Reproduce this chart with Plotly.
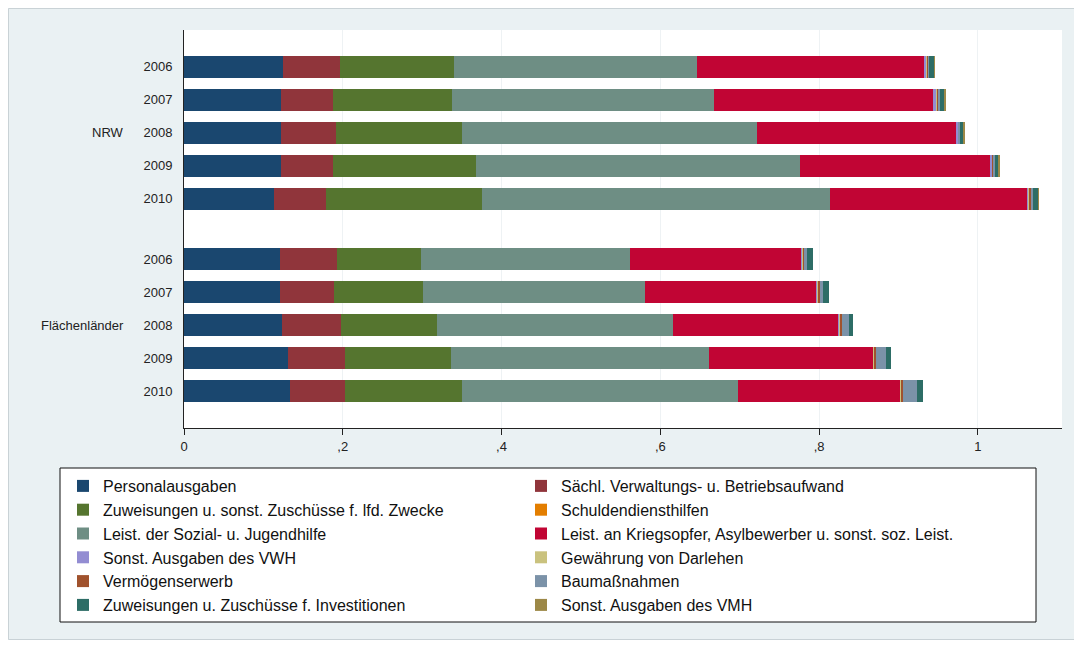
import plotly.graph_objects as go

groups = ["NRW", "Flächenländer"]
years = ["2006", "2007", "2008", "2009", "2010"]

series_names = [
    "Personalausgaben",
    "Sächl. Verwaltungs- u. Betriebsaufwand",
    "Zuweisungen u. sonst. Zuschüsse f. lfd. Zwecke",
    "Schuldendiensthilfen",
    "Leist. der Sozial- u. Jugendhilfe",
    "Leist. an Kriegsopfer, Asylbewerber u. sonst. soz. Leist.",
    "Sonst. Ausgaben des VWH",
    "Gewährung von Darlehen",
    "Vermögenserwerb",
    "Baumaßnahmen",
    "Zuweisungen u. Zuschüsse f. Investitionen",
    "Sonst. Ausgaben des VMH",
]

# values per series: NRW 2006..2010, then Flächenländer 2006..2010
personal = [0.125, 0.122, 0.122, 0.122, 0.113, 0.121, 0.121, 0.123, 0.131, 0.134]
saechl = [0.071, 0.066, 0.069, 0.066, 0.066, 0.072, 0.068, 0.075, 0.072, 0.069]
zuw_lfd = [0.144, 0.150, 0.159, 0.180, 0.196, 0.105, 0.112, 0.121, 0.133, 0.147]
schuld = [0.000, 0.000, 0.000, 0.000, 0.000, 0.000, 0.000, 0.000, 0.000, 0.000]
sozial = [0.306, 0.329, 0.372, 0.408, 0.439, 0.264, 0.280, 0.297, 0.325, 0.348]
kriegs = [0.286, 0.276, 0.251, 0.240, 0.248, 0.216, 0.216, 0.209, 0.207, 0.204]
sonst_vwh = [0.003, 0.005, 0.002, 0.002, 0.002, 0.001, 0.001, 0.001, 0.001, 0.001]
darlehen = [0.001, 0.001, 0.000, 0.001, 0.001, 0.001, 0.001, 0.001, 0.001, 0.001]
vermoegen = [0.002, 0.001, 0.001, 0.001, 0.002, 0.001, 0.002, 0.002, 0.002, 0.002]
bau = [0.001, 0.002, 0.002, 0.002, 0.003, 0.004, 0.004, 0.009, 0.012, 0.017]
zuw_inv = [0.006, 0.006, 0.004, 0.004, 0.006, 0.007, 0.008, 0.005, 0.006, 0.008]
sonst_vmh = [0.001, 0.001, 0.001, 0.001, 0.001, 0.000, 0.000, 0.000, 0.000, 0.000]

series_values = [personal, saechl, zuw_lfd, schuld, sozial, kriegs,
                 sonst_vwh, darlehen, vermoegen, bau, zuw_inv, sonst_vmh]

colors = ["#1a476f", "#90353b", "#55752f", "#e37e00", "#6e8e84", "#c10534",
          "#938dd2", "#cac27e", "#a0522d", "#7b92a8", "#2d6d66", "#9c8847"]

x_tickvals = [0, 0.2, 0.4, 0.6, 0.8, 1.0]
x_ticktext = ["0", ",2", ",4", ",6", ",8", "1"]

# category positions (layout): second group shifted by a gap
GAP = 1.85
positions = []
for gi, g in enumerate(groups):
    for yi, yr in enumerate(years):
        positions.append(gi * (len(years) - 1 + GAP) + yi)
ticktext = [yr for g in groups for yr in years]

FONT = "Arial, Liberation Sans, Helvetica, sans-serif"

fig = go.Figure()
for name, vals, col in zip(series_names, series_values, colors):
    fig.add_trace(go.Bar(
        name=name, x=vals, y=positions, orientation="h",
        marker=dict(color=col, line=dict(width=0)), width=0.67,
    ))

# page body has an 8px margin: figure drawn from (8, 8)
OFF = 8
W, H = 1067, 632
L, R, T, B = 184 - OFF, (OFF + W) - 1062, 30 - OFF, (OFF + H) - 428
pw, ph = W - L - R, H - T - B

def px_x(p):
    return (p - OFF - L) / pw

def px_y(p):
    return (OFF + H - B - p) / ph

grp_centers = [sum(positions[i * 5:(i + 1) * 5]) / 5 for i in range(len(groups))]
annotations = []
for g, c in zip(groups, grp_centers):
    annotations.append(dict(text=g, x=px_x(126), xref="paper", y=c, yref="y",
                            xanchor="right", yanchor="middle", showarrow=False,
                            font=dict(family=FONT, size=13, color="#222")))

fig.update_layout(
    width=W, height=H,
    margin=dict(l=L, r=R, t=T, b=B),
    barmode="stack",
    paper_bgcolor="#eaf1f3",
    plot_bgcolor="#ffffff",
    font=dict(family=FONT, size=13, color="#222"),
    xaxis=dict(range=[0, 1.106], tickvals=x_tickvals, ticktext=x_ticktext,
               ticks="outside", ticklen=6, tickcolor="#222", showline=True,
               linecolor="#222", linewidth=1, showgrid=True, gridcolor="#eef2f4",
               zeroline=False, tickfont=dict(size=13)),
    yaxis=dict(range=[positions[-1] + 1.12, -1.12], tickvals=positions,
               ticktext=ticktext, ticks="", showline=True, linecolor="#222",
               linewidth=1, showgrid=False, zeroline=False, ticklabelstandoff=8,
               tickfont=dict(size=13)),
    legend=dict(orientation="h", x=px_x(63), y=px_y(469), xanchor="left",
                yanchor="top", entrywidth=413, entrywidthmode="pixels",
                bgcolor="rgba(0,0,0,0)", borderwidth=0,
                font=dict(family=FONT, size=16, color="#111"),
                traceorder="normal", tracegroupgap=0, itemsizing="constant"),
    annotations=annotations,
    shapes=[
        dict(type="rect", xref="paper", yref="paper", layer="above",
             x0=px_x(OFF + 0.5), x1=px_x(OFF + W - 0.5),
             y0=px_y(OFF + H - 0.5), y1=px_y(OFF + 0.5),
             fillcolor="rgba(0,0,0,0)", line=dict(color="#c9d2d6", width=1)),
        dict(type="rect", xref="paper", yref="paper", layer="above",
             x0=px_x(60), x1=px_x(1036), y0=px_y(622), y1=px_y(468),
             fillcolor="#ffffff", line=dict(color="#111111", width=1)),
    ],
)

fig.write_html("out.html")
